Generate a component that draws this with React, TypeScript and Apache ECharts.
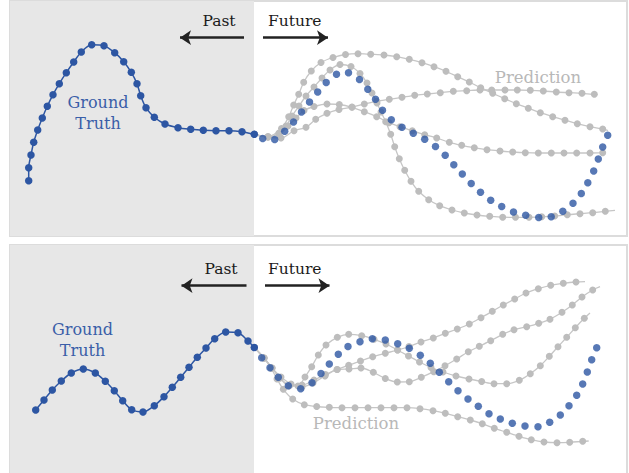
import React, { useEffect, useRef } from "react";
import * as echarts from "echarts";

// ---- Panel 1 (top) data: [time, value] ----
const truth1Past: number[][] = [
  [28.7, 180.7], [28.7, 167.7], [31, 155], [33.7, 142.3], [37.7, 130], [42.3, 118], [47.3, 106.3],
  [53, 94.7], [59.3, 83.7], [66.3, 72.7], [73.7, 62], [81.3, 52], [91.7, 44.7], [104, 45.7],
  [114.7, 52.7], [123.7, 61.7], [131.3, 72.3], [137, 83.7], [140.7, 95.7], [146, 107.7],
  [154.3, 117.3], [165, 124], [178, 127.7], [190.7, 129.3], [203.3, 130.3], [216, 130.7],
  [229, 130.7], [242, 131.7], [254.3, 134.3],
];
const truth1Future: number[][] = [
  [262.7, 138.5], [274.7, 139.5], [284.7, 131.2], [293.5, 122], [301.5, 112], [309.5, 102],
  [317.7, 92], [326.2, 82.5], [336.5, 74.3], [348.5, 72.7], [359.5, 79.5], [367.8, 89.3],
  [375.5, 99.3], [382.5, 110.2], [391.3, 119.8], [402, 127.2], [413.3, 133.2], [424.7, 139.3],
  [435.5, 146.5], [445.2, 155.2], [453.8, 164.7], [462.3, 174], [471.2, 183.5], [480.5, 192.3],
  [490.7, 200.2], [501.7, 206.5], [513.5, 212], [525.7, 215.3], [538.7, 217.5], [551.2, 216.7],
  [562.8, 211.3], [573, 203.3], [581.3, 193.5], [587.8, 182.8], [593.7, 171], [598.3, 159],
  [602.7, 147], [607.7, 135.2],
];
const pred1A: number[][] = [
  [254.3, 134.3], [268, 136.5], [281.5, 128.5], [288.7, 116.7], [293.7, 105], [298.7, 94.3],
  [303.7, 82.3], [311.3, 71], [321, 62.5], [333, 57.5], [345.5, 54.5], [358, 53.7], [370.7, 54.3],
  [384, 55], [396.7, 56.7], [409.3, 59.3], [422, 62.7], [434, 66.7], [446, 71.3], [457.7, 76.7],
  [469.3, 82], [480.7, 87.7], [492.7, 93.3], [504.7, 98.7], [516.3, 103.7], [528.3, 108.3],
  [540.3, 112.7], [552.7, 116.7], [565, 120.3], [577.3, 123.7], [590, 126.7], [602.7, 129],
];
const pred1AEnd: number[] = [608, 130.5];
const pred1B: number[][] = [
  [254.3, 134.3], [268, 137], [279, 133], [286, 126], [292, 116], [299, 106], [306, 96], [314, 87],
  [322, 78], [330, 70], [340, 64.5], [351, 66.5], [360, 73.5], [367, 83], [372, 93], [377, 103],
  [381, 112], [385.7, 121.7], [390.7, 134.3], [394.7, 146.7], [399.3, 158.7], [404.7, 170.3],
  [411, 181.3], [418.7, 191.3], [428.7, 199.7], [439.7, 205.7], [452, 210], [464.3, 213],
  [477, 215], [489.7, 216.3], [502.7, 217.2], [515.5, 217.3], [529, 217.3], [541.7, 216.7],
  [554.7, 216], [567.3, 214.7], [580, 213.7], [592.7, 212.7], [605.3, 211.3],
];
const pred1BEnd: number[] = [615, 210.3];
const pred1C: number[][] = [
  [254.3, 134.3], [268, 137], [281, 138], [294, 130.7], [306, 127.3], [315.7, 119.3], [327, 113.3],
  [339, 109.5], [352, 107], [364.3, 104], [376.7, 101.3], [389.3, 99.3], [402, 97.3], [414.7, 95.3],
  [427.3, 94], [440.3, 92.7], [453.3, 91.3], [466.7, 90.7], [480, 90], [491.7, 90], [505, 90],
  [517.3, 90], [530.3, 90.3], [543.3, 91], [556.3, 92], [569, 92.7], [582, 93.3], [594.3, 94.3],
];
const pred1D: number[][] = [
  [254.3, 134.3], [268, 137], [279, 134], [288, 126], [296, 118], [304, 110.5], [314, 106.5],
  [327, 104], [339.3, 104.5], [352, 107.3], [364.3, 111.7], [376.7, 116.7], [389, 122.7],
  [400, 126.7], [412.3, 130.7], [424.7, 134.7], [436.7, 138], [449.3, 142.3], [461.7, 145.3],
  [474.3, 147.7], [487, 149.7], [500, 151], [512.7, 152], [525.3, 152.7], [538.3, 153],
  [551.3, 153], [564, 153], [576.7, 153], [590, 153], [602.7, 152.7],
];

// ---- Panel 2 (bottom) data ----
const truth2Past: number[][] = [
  [35.7, 410], [44, 400], [52.3, 390], [61.3, 381], [71.3, 373], [83.3, 369], [95.3, 373],
  [105.3, 381.3], [114.3, 390.7], [122.7, 400.7], [131.7, 409.7], [143, 412], [154.3, 405.7],
  [164, 396.7], [172.3, 387.3], [180.7, 377.3], [189, 367.3], [197.3, 357.3], [206, 348],
  [214.7, 338.7], [225.7, 332], [238, 332.7], [248, 341], [254.3, 347.5],
];
const truth2Future: number[][] = [
  [261.7, 357.7], [270, 367.7], [278.3, 377.3], [288.3, 385.7], [300.7, 388.7], [312, 382.7],
  [321, 373.5], [329.3, 364], [338.3, 354.3], [348, 346.5], [360, 341.8], [372.3, 338.8],
  [385.3, 340], [397.7, 343.7], [409.3, 348.3], [420.3, 355.3], [430.3, 363.3], [439.3, 372.3],
  [448.7, 381.7], [458, 390.7], [468, 399], [478.3, 406.3], [489, 413.7], [500.3, 419],
  [512.3, 423.3], [525, 426], [538, 426.7], [549.7, 422.3], [560.3, 415], [569, 405.7],
  [576.7, 395.3], [582.7, 384], [587.3, 372], [591.7, 359.7], [596.7, 347.7],
];
const pred2A: number[][] = [
  [254.3, 347.5], [264, 358], [272, 368], [280, 378], [290, 385], [302, 385], [314, 380],
  [325.5, 374.5], [337, 369.5], [348.7, 365.3], [360.5, 361], [372.7, 356.8], [385.3, 353.3],
  [397.7, 350], [409, 346.5], [421, 342], [433.3, 338], [445.3, 333.3], [457.3, 329], [469.3, 324],
  [481, 317.7], [492.3, 311.3], [503.3, 305], [514.7, 299], [526, 293], [538.3, 288.7],
  [550.7, 285.3], [563.3, 283.3], [576, 282],
];
const pred2AEnd: number[] = [585, 281.7];
const pred2B: number[][] = [
  [254.3, 347.5], [264, 358], [272, 368], [281, 377], [291, 384], [302, 387], [313, 383],
  [325, 376], [337.3, 369.5], [349, 369], [361, 368], [373.3, 372.3], [385.3, 378.5], [397.3, 382],
  [409.3, 381.7], [421.3, 377.3], [433.7, 371.7], [445, 365.7], [456.7, 359], [468.3, 351.7],
  [479.3, 346.3], [490.7, 340.7], [502.7, 334.3], [514, 329.7], [526.7, 326.7], [538.7, 323.3],
  [550, 319.3], [562, 312.3], [572.3, 305], [582, 297], [592.7, 290],
];
const pred2BEnd: number[] = [600, 286.7];
const pred2C: number[][] = [
  [254.3, 347.5], [264, 358], [272, 368], [280, 378], [289, 386], [298, 386], [305, 377],
  [311.7, 366.7], [318.3, 355], [326, 345], [337.3, 337.3], [348.7, 334.3], [361.7, 335.7],
  [374, 339.3], [386, 344], [397.5, 350], [408.5, 356], [419.5, 362], [431, 367.5], [443, 372],
  [456, 376], [469, 379], [481.7, 381.5], [494, 383.7], [506.7, 383.7], [519.3, 380.3],
  [530.3, 373.7], [540.3, 365.7], [549.3, 356.3], [558, 346.7], [566.7, 337.3], [575.3, 327.7],
  [584.3, 318.3],
];
const pred2CEnd: number[] = [590, 313];
const pred2D: number[][] = [
  [254.3, 347.5], [264, 358], [271, 368], [277, 379], [283.3, 389.3], [292.7, 399], [304.3, 404.7],
  [316.7, 406.5], [329.3, 407.3], [342, 407.7], [355, 407.7], [368, 407.7], [381, 407.7],
  [394, 407.7], [407, 407.7], [420, 408.7], [433, 410.7], [445.3, 413.3], [457.7, 416.7],
  [470.3, 420], [482.3, 423.7], [494.3, 428.3], [506.7, 432.3], [519, 436.3], [531.3, 439.7],
  [544, 442], [557, 442.7], [569.7, 442.3], [582.7, 441.3],
];
const pred2DEnd: number[] = [588.7, 441];

// ---- Annotations ----
const pastBoundary = 254; // "now" boundary on the time axis
const arrows1: number[][][] = [
  [[244, 37.7], [180, 37.7]],
  [[263, 37.7], [328, 37.7]],
];
const arrows2: number[][][] = [
  [[246.5, 285.7], [181.5, 285.7]],
  [[265, 285.7], [329.5, 285.7]],
];

const BLUE = "#2d56a3";
const BLUE_TEXT = "#3a5ea8";
const GREY_DOT = "#bdbdbd";
const GREY_LINE = "#c6c6c6";
const SHADE = "#e7e7e7";
const SERIF = "'DejaVu Serif', 'Liberation Serif', serif";

function withEnd(pts: number[][], end: number[] | null) {
  const d: any[] = pts.map((p) => p);
  if (end) d.push({ value: end, symbol: "none" });
  return d;
}

function predSeries(pts: number[][], end: number[] | null, idx: number, extra: any = {}) {
  return {
    type: "line",
    xAxisIndex: idx,
    yAxisIndex: idx,
    data: withEnd(pts, end),
    smooth: 0.3,
    symbol: "circle",
    symbolSize: 7,
    showSymbol: true,
    itemStyle: { color: GREY_DOT },
    lineStyle: { color: GREY_LINE, width: 1.3 },
    z: 2,
    ...extra,
  };
}

function arrowLine(arr: number[][][]) {
  return {
    silent: true,
    symbol: ["none", "arrow"],
    symbolSize: [11, 11],
    label: { show: false },
    lineStyle: { color: "#222222", width: 2.6, type: "solid" },
    data: arr.map((a) => [{ coord: a[0] }, { coord: a[1] }]),
  };
}

function shadeArea() {
  return {
    silent: true,
    itemStyle: { color: SHADE },
    data: [[{ xAxis: 10 }, { xAxis: pastBoundary }]],
  };
}

export default function App() {
  const ref = useRef<HTMLDivElement>(null);
  useEffect(() => {
    if (!ref.current) return;
    const chart = echarts.init(ref.current, undefined, { renderer: "svg" });
    const axisX = (i: number) => ({
      type: "value",
      gridIndex: i,
      min: 10,
      max: 627,
      show: false,
      splitLine: { show: false },
    });
    chart.setOption({
      animation: false,
      backgroundColor: "#ffffff",
      grid: [
        {
          left: 10, top: 1, width: 617, height: 235,
          show: true, backgroundColor: "#ffffff", borderColor: "#dcdcdc", borderWidth: 2,
          outerBoundsMode: "none",
        },
        {
          left: 10, top: 245, width: 617, height: 240,
          show: true, backgroundColor: "#ffffff", borderColor: "#dcdcdc", borderWidth: 2,
          outerBoundsMode: "none",
        },
      ],
      xAxis: [axisX(0), axisX(1)],
      yAxis: [
        { type: "value", gridIndex: 0, min: 1, max: 236, inverse: true, show: false, splitLine: { show: false } },
        { type: "value", gridIndex: 1, min: 245, max: 485, inverse: true, show: false, splitLine: { show: false } },
      ],
      series: [
        predSeries(pred1A, pred1AEnd, 0, { markArea: shadeArea(), markLine: arrowLine(arrows1) }),
        predSeries(pred1B, pred1BEnd, 0),
        predSeries(pred1C, null, 0),
        predSeries(pred1D, null, 0),
        {
          type: "line", xAxisIndex: 0, yAxisIndex: 0, data: truth1Past, smooth: 0.3,
          symbol: "circle", symbolSize: 7.5, itemStyle: { color: BLUE },
          lineStyle: { color: BLUE, width: 1.5 }, z: 3,
        },
        {
          type: "scatter", xAxisIndex: 0, yAxisIndex: 0, data: truth1Future,
          symbol: "circle", symbolSize: 7.5, itemStyle: { color: BLUE }, z: 4,
        },
        predSeries(pred2A, pred2AEnd, 1, { markArea: shadeArea(), markLine: arrowLine(arrows2) }),
        predSeries(pred2B, pred2BEnd, 1),
        predSeries(pred2C, pred2CEnd, 1),
        predSeries(pred2D, pred2DEnd, 1),
        {
          type: "line", xAxisIndex: 1, yAxisIndex: 1, data: truth2Past, smooth: 0.3,
          symbol: "circle", symbolSize: 7.5, itemStyle: { color: BLUE },
          lineStyle: { color: BLUE, width: 1.5 }, z: 3,
        },
        {
          type: "scatter", xAxisIndex: 1, yAxisIndex: 1, data: truth2Future,
          symbol: "circle", symbolSize: 7.5, itemStyle: { color: BLUE }, z: 4,
        },
      ],
      graphic: [
        { type: "text", x: 219, y: 21, z: 10, style: { text: "Past", fontFamily: SERIF, fontSize: 15.5, fill: "#1a1a1a", textAlign: "center", textVerticalAlign: "middle" } },
        { type: "text", x: 268, y: 21, z: 10, style: { text: "Future", fontFamily: SERIF, fontSize: 15.5, fill: "#1a1a1a", textAlign: "left", textVerticalAlign: "middle" } },
        { type: "text", x: 98, y: 112.5, z: 10, style: { text: "Ground\nTruth", fontFamily: SERIF, fontSize: 16, lineHeight: 21, fill: BLUE_TEXT, textAlign: "center", textVerticalAlign: "middle" } },
        { type: "text", x: 538, y: 77, z: 10, style: { text: "Prediction", fontFamily: SERIF, fontSize: 16.5, fill: "#b8b8b8", textAlign: "center", textVerticalAlign: "middle" } },
        { type: "text", x: 221, y: 268.5, z: 10, style: { text: "Past", fontFamily: SERIF, fontSize: 15.5, fill: "#1a1a1a", textAlign: "center", textVerticalAlign: "middle" } },
        { type: "text", x: 268, y: 268.5, z: 10, style: { text: "Future", fontFamily: SERIF, fontSize: 15.5, fill: "#1a1a1a", textAlign: "left", textVerticalAlign: "middle" } },
        { type: "text", x: 82.5, y: 340, z: 10, style: { text: "Ground\nTruth", fontFamily: SERIF, fontSize: 16, lineHeight: 21, fill: BLUE_TEXT, textAlign: "center", textVerticalAlign: "middle" } },
        { type: "text", x: 356, y: 423.5, z: 10, style: { text: "Prediction", fontFamily: SERIF, fontSize: 16.5, fill: "#b8b8b8", textAlign: "center", textVerticalAlign: "middle" } },
      ],
    });
    return () => chart.dispose();
  }, []);
  return (
    <div
      ref={ref}
      style={{ position: "absolute", left: 0, top: 0, width: 629, height: 473 }}
    />
  );
}
